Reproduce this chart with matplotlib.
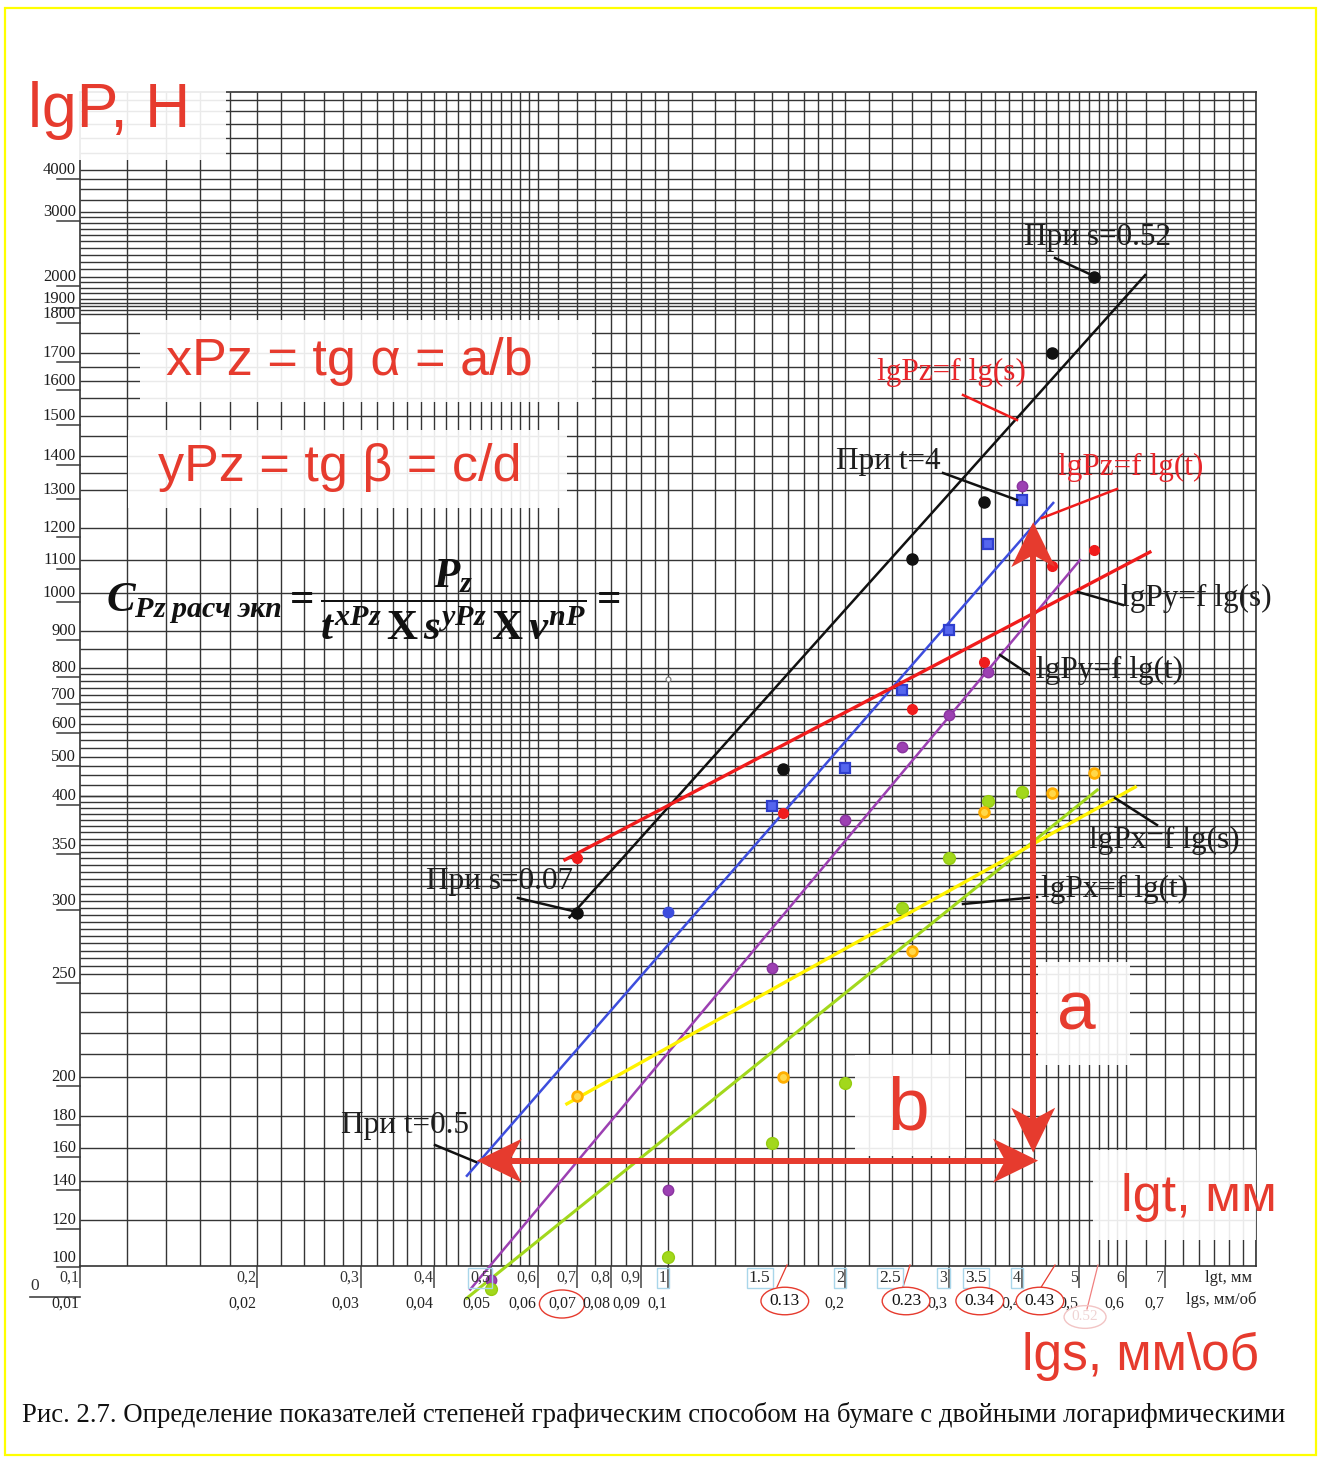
import numpy as np
import matplotlib
matplotlib.use("Agg")
import matplotlib.pyplot as plt
from matplotlib import transforms as mtrans
from matplotlib import font_manager
from matplotlib.lines import Line2D
from matplotlib.patches import Rectangle, Polygon
from matplotlib.ticker import NullLocator

# ---------------------------------------------------------------- data
# depth of cut t, mm, and the three force components measured at it, N
T_VALUES = [0.5, 1.0, 1.5, 2.0, 2.5, 3.0, 3.5, 4.0]
PZ_T = [152, 292, 389, 470, 718, 903, 1149, 1273]
PY_T = [90, 135, 254, 375, 528, 629, 784, 1311]
PX_T = [86, 100.5, 163, 197, 295, 338, 395, 409]

# feed s, mm/rev, and the force components measured at it, N
S_VALUES = [0.07, 0.157, 0.26, 0.345, 0.45, 0.53]
PZ_S = [291, 467, 1103, 1268, 1700, 2000]
PY_S = [338, 382, 650, 815, 1081, 1130]
PX_S = [190, 200, 265, 383, 407, 456]

# straight lines drawn through each group of points (end points)
PZ_T_LINE_T = [0.455, 4.52]
PZ_T_LINE_P = [143, 1265]
PY_T_LINE_T = [0.461, 5.02]
PY_T_LINE_P = [86, 1100]
PX_T_LINE_T = [0.455, 5.37]
PX_T_LINE_P = [82.5, 414]
PZ_S_LINE_S = [0.068, 0.648]
PZ_S_LINE_P = [288, 2025]
PY_S_LINE_S = [0.0668, 0.660]
PY_S_LINE_P = [336, 1124]
PX_S_LINE_S = [0.0673, 0.623]
PX_S_LINE_P = [186, 421]

# stray pencil dot on the sheet
DOT_T = [1.0]
DOT_P = [757]

# construction legs of the slope triangle: b (horizontal) and a (vertical)
LEG_B_T = [0.473, 4.26]
LEG_B_P = 152
LEG_A_T = 4.18
LEG_A_P = [157, 1215]

# printed scales of the log paper
P_TICKS = [100, 120, 140, 160, 180, 200, 250, 300, 350, 400, 500, 600, 700,
           800, 900, 1000, 1100, 1200, 1300, 1400, 1500, 1600, 1700, 1800,
           1900, 2000, 3000, 4000]
P_TICK_LABELS = [str(v) for v in P_TICKS]
T_TICKS = [0.1, 0.2, 0.3, 0.4, 0.5, 0.6, 0.7, 0.8, 0.9, 1, 2, 3, 4, 5, 6, 7]
T_TICK_LABELS = ["0,1", "0,2", "0,3", "0,4", "0,5", "0,6", "0,7", "0,8",
                 "0,9", "1", "2", "3", "4", "5", "6", "7"]
T_EXTRA = [1.5, 2.5, 3.5]
T_EXTRA_LABELS = ["1.5", "2.5", "3.5"]
S_TICKS = [0.01, 0.02, 0.03, 0.04, 0.05, 0.06, 0.07, 0.08, 0.09, 0.1,
           0.2, 0.3, 0.4, 0.5, 0.6, 0.7]
S_TICK_LABELS = ["0,01", "0,02", "0,03", "0,04", "0,05", "0,06", "0,07",
                 "0,08", "0,09", "0,1", "0,2", "0,3", "0,4", "0,5", "0,6", "0,7"]
S_MARKED = [0.158, 0.254, 0.339, 0.429]
S_MARKED_LABELS = ["0.13", "0.23", "0.34", "0.43"]

# ---------------------------------------------------------------- paper
# the printed force scale is not a clean log scale: heights (px above the
# bottom rule) at which the printed force values sit
PAPER_P = [80, 100, 120, 140, 160, 180, 200, 250, 300, 350, 400, 500, 600,
           700, 800, 900, 1000, 1100, 1200, 1300, 1400, 1500, 1600, 1700,
           1800, 1900, 2000, 3000, 4000, 7000]
PAPER_H = [-38.5, 8, 46, 85, 118, 150, 189, 292, 365, 421, 470, 509, 542,
           571, 598, 635, 673, 706, 738, 776, 810, 850, 885, 913, 952, 967,
           989, 1054, 1096, 1177]
LOG_P = np.log10(PAPER_P)


def force_to_paper(v):
    v = np.asarray(v, dtype=float)
    return np.interp(np.log10(np.clip(v, 1e-9, None)), LOG_P, PAPER_H)


def paper_to_force(h):
    return 10 ** np.interp(np.asarray(h, dtype=float), PAPER_H, LOG_P)


# rulings of the sheet
X_RULE = np.concatenate([np.arange(0.12, 0.199, 0.02), np.arange(0.2, 0.599, 0.02),
                         np.arange(0.6, 0.999, 0.05), np.arange(1.0, 1.999, 0.1),
                         np.arange(2.0, 5.999, 0.2), np.arange(6.0, 10.01, 0.5)])
Y_RULE = np.concatenate([[120, 140, 160, 180], np.arange(200, 249, 10),
                         np.arange(250, 299, 5), np.linspace(300, 350, 9),
                         np.linspace(350, 400, 9)[1:], np.arange(400, 799, 25),
                         [800, 850, 900, 1000, 1100, 1200, 1300],
                         np.arange(1350, 1799, 50), np.arange(1800, 1999, 25),
                         np.arange(2000, 2999, 100), np.arange(3000, 3999, 250),
                         np.arange(4000, 6999, 500)])

# ---------------------------------------------------------------- style
available = {f.name for f in font_manager.fontManager.ttflist}
SERIF = "Liberation Serif"
SANS = "Liberation Sans"
NARROW = "Liberation Sans Narrow" if "Liberation Sans Narrow" in available else SERIF

plt.rcParams["font.family"] = [SERIF, "DejaVu Sans"]
plt.rcParams["mathtext.fontset"] = "custom"
plt.rcParams["mathtext.rm"] = "Liberation Serif:bold"
plt.rcParams["mathtext.it"] = "Liberation Serif:italic:bold"
plt.rcParams["mathtext.bf"] = "Liberation Serif:bold"

GRID_C = "#353535"
BLACK = "#111111"
BLUE = "#3d4ddd"
RED = "#f01c1c"
PURPLE = "#9c40b2"
YELLOW = "#fff200"
GREEN = "#a2d81c"
ORANGE = "#ffae00"
NOTE_RED = "#e63b2e"
TEXT_C = "#1e1e1e"

W, H, DPI = 1319, 1461, 100
L, R, T, B = 80, 1256, 92, 1266

fig = plt.figure(figsize=(W / DPI, H / DPI), dpi=DPI)
fig.patch.set_facecolor("white")

ax = fig.add_axes([L / W, (H - B) / H, (R - L) / W, (B - T) / H])
ax.set_xscale("log")
ax.set_yscale("function", functions=(force_to_paper, paper_to_force))
ax.set_xlim(0.1, 10)
ax.set_ylim(paper_to_force(0), paper_to_force(B - T))
ax.set_facecolor("white")

# second abscissa: feed s shares the same rulings, one decade lower
ax_s = ax.twiny()
ax_s.set_xscale("log")
ax_s.set_xlim(0.01, 1)
ax_s.set_axis_off()

ax.set_xticks(T_TICKS)
ax.set_xticklabels([])
ax.xaxis.set_minor_locator(NullLocator())
ax.set_yticks([])
ax.yaxis.set_minor_locator(NullLocator())
ax.tick_params(axis="x", which="major", direction="out", length=15.5,
               width=1.1, color="#444444", labelbottom=False, top=False)
for sp in ax.spines.values():
    sp.set_color("#333333")
    sp.set_linewidth(1.2)

ax.vlines(X_RULE, 0, 1, transform=ax.get_xaxis_transform(), colors=GRID_C,
          linewidth=1.0, zorder=0.5)
ax.hlines(Y_RULE, 0, 1, transform=ax.get_yaxis_transform(), colors=GRID_C,
          linewidth=1.0, zorder=0.5)

# ---------------------------------------------------------------- series
ax.plot(PZ_T_LINE_T, PZ_T_LINE_P, color=BLUE, lw=1.8, zorder=3, clip_on=False)
ax.plot(PY_T_LINE_T, PY_T_LINE_P, color=PURPLE, lw=1.8, zorder=3, clip_on=False)
ax.plot(PX_T_LINE_T, PX_T_LINE_P, color=GREEN, lw=2.2, zorder=3, clip_on=False)
ax_s.plot(PZ_S_LINE_S, PZ_S_LINE_P, color=BLACK, lw=1.8, zorder=3, clip_on=False)
ax_s.plot(PY_S_LINE_S, PY_S_LINE_P, color=RED, lw=2.4, zorder=3, clip_on=False)
ax_s.plot(PX_S_LINE_S, PX_S_LINE_P, color=YELLOW, lw=2.4, zorder=3, clip_on=False)

ax.plot(T_VALUES[:2], PZ_T[:2], ls="none", marker="o", ms=7.5, mfc=BLUE,
        mec=BLUE, zorder=4, clip_on=False)
ax.plot(T_VALUES[2:], PZ_T[2:], ls="none", marker="s", ms=7.5, mfc="#5566ee",
        mec="#2f3fd0", mew=1.6, zorder=4, clip_on=False)
ax.plot(T_VALUES, PY_T, ls="none", marker="o", ms=7.5, mfc=PURPLE,
        mec="#8a34a0", zorder=4, clip_on=False)
ax.plot(T_VALUES, PX_T, ls="none", marker="o", ms=8.5, mfc=GREEN,
        mec="#95cc10", zorder=4, clip_on=False)
ax_s.plot(S_VALUES, PZ_S, ls="none", marker="o", ms=8, mfc=BLACK,
          mec=BLACK, zorder=4, clip_on=False)
ax_s.plot(S_VALUES, PY_S, ls="none", marker="o", ms=7, mfc=RED,
          mec=RED, zorder=4, clip_on=False)
ax_s.plot(S_VALUES, PX_S, ls="none", marker="o", ms=7, mfc="#ffd84a",
          mec=ORANGE, mew=2, zorder=4, clip_on=False)
ax.plot(DOT_T, DOT_P, ls="none", marker="o", ms=3.5, mfc="white",
        mec="#777777", mew=0.8, zorder=4)

# ---------------------------------------------------------------- overlay
ov = fig.add_axes([0, 0, 1, 1])
ov.set_xlim(0, W)
ov.set_ylim(H, 0)
ov.set_axis_off()
ov.set_zorder(5)
ov.patch.set_alpha(0)

blend_y = mtrans.blended_transform_factory(ov.transData, ax.transData)
blend_t = mtrans.blended_transform_factory(ax.transData, ov.transData)
blend_s = mtrans.blended_transform_factory(ax_s.transData, ov.transData)

# printed force scale
for v, lab in zip(P_TICKS, P_TICK_LABELS):
    ov.add_line(Line2D([57, 80], [v, v], color="#3a3a3a", lw=1.1,
                       transform=blend_y + mtrans.Affine2D().translate(0, -9)))
    ov.text(76, v, lab, transform=blend_y, ha="right", va="center",
            fontsize=12, color=TEXT_C, family=SERIF)

# printed depth and feed scales
shift = mtrans.Affine2D().translate(-1, 0)
BOXED_T = {"0,5", "1", "2", "3", "4"}
for v, lab in zip(T_TICKS, T_TICK_LABELS):
    box = dict(boxstyle="square,pad=0.15", fc="none", ec="#a9d6ea", lw=1.0) \
        if lab in BOXED_T else None
    ov.text(v, 1278, lab, transform=blend_t + shift, ha="right", va="center",
            fontsize=11.5, color="#333333", family=NARROW, bbox=box)
for v, lab in zip(T_EXTRA, T_EXTRA_LABELS):
    ov.text(v, 1278, lab, transform=blend_t + shift, ha="right", va="center",
            fontsize=12.5, color="#222222", family=SERIF,
            bbox=dict(boxstyle="square,pad=0.12", fc="none", ec="#a9d6ea", lw=1.0))
for v, lab in zip(S_TICKS, S_TICK_LABELS):
    box = dict(boxstyle="ellipse,pad=0.12", fc="none", ec=NOTE_RED, lw=1.0) \
        if lab == "0,07" else None
    ov.text(v, 1304, lab, transform=blend_s + shift, ha="right", va="center",
            fontsize=11.5, color="#222222", family=SERIF, bbox=box)
for v, lab in zip(S_MARKED, S_MARKED_LABELS):
    ov.text(v, 1301, lab, transform=blend_s, ha="center", va="center",
            fontsize=12.5, color="#111111", family=SERIF,
            bbox=dict(boxstyle="ellipse,pad=0.1", fc="white", ec=NOTE_RED, lw=1.0))
ov.text(0.512, 1317, "0.52", transform=blend_s, ha="center", va="center",
        fontsize=11, color="#efd3d3", family=SERIF,
        bbox=dict(boxstyle="ellipse,pad=0.1", fc="none", ec="#f2c4c4", lw=1.0))
for x0, y0, x1, y1, c in [(777, 1287, 787, 1265, NOTE_RED),
                          (903, 1287, 910, 1265, NOTE_RED),
                          (1040, 1289, 1055, 1265, NOTE_RED),
                          (1087, 1309, 1098, 1265, "#f08080")]:
    ov.plot([x0, x1], [y0, y1], color=c, lw=0.9)

ov.text(1252, 1278, "lgt, мм", ha="right", va="center", fontsize=12,
        color="#222222", family=SERIF)
ov.text(1257, 1300, "lgs, мм/об", ha="right", va="center", fontsize=12,
        color="#222222", family=SERIF)
ov.text(35, 1286, "0", ha="center", va="center", fontsize=12.5,
        color="#333333", family=SERIF)
ov.plot([30, 80], [1297, 1297], color="#444444", lw=1.2)

# translucent white patches pasted over the sheet
for x0, y0, x1, y1 in [(18, 86, 226, 160), (140, 320, 592, 402),
                       (128, 430, 567, 508), (1038, 962, 1130, 1065),
                       (855, 1055, 965, 1156), (1093, 1150, 1256, 1240)]:
    ov.add_patch(Rectangle((x0, y0), x1 - x0, y1 - y0, fc="white",
                           ec="none", alpha=0.9, zorder=1))

# large red captions
ov.text(109, 110, "lgP, H", ha="center", va="center", fontsize=45,
        color=NOTE_RED, family=SANS, zorder=3)
ov.text(349, 362, "xPz = tg α = a/b", ha="center", va="center",
        fontsize=37.5, color=NOTE_RED, family=SANS, zorder=3)
ov.text(340, 467, "yPz = tg β = c/d", ha="center", va="center",
        fontsize=37.5, color=NOTE_RED, family=SANS, zorder=3)
ov.text(1076, 1012, "a", ha="center", va="center", fontsize=50,
        color=NOTE_RED, family=SANS, zorder=3)
ov.text(908, 1110, "b", ha="center", va="center", fontsize=54,
        color=NOTE_RED, family=SANS, zorder=3)
ov.text(1199, 1197, "lgt, мм", ha="center", va="center", fontsize=37.5,
        color=NOTE_RED, family=SANS, zorder=3)
ov.text(1141, 1356, "lgs, мм\\об", ha="center", va="center", fontsize=37,
        color=NOTE_RED, family=SANS, zorder=3)

# cutting-force coefficient formula
ov.text(106, 600,
        r"$C_{Pz\;расч\;экп}=\dfrac{P_z}{t^{xPz}\,\mathrm{X}\,s^{yPz}\,\mathrm{X}\,v^{nP}}=$",
        ha="left", va="center", fontsize=31, color="#111111", zorder=3)

# line labels with leaders
NOTES = [
    ("При s=0.52", 1098, 237, TEXT_C, (1055, 258, 1096, 277)),
    ("lgPz=f lg(s)", 951, 372, "#e8262b", (963, 395, 1017, 420)),
    ("При t=4", 888, 461, TEXT_C, (943, 473, 1017, 500)),
    ("lgPz=f lg(t)", 1131, 467, "#e8262b", (1042, 518, 1117, 489)),
    ("lgPy=f lg(s)", 1196, 598, TEXT_C, (1078, 592, 1123, 605)),
    ("lgPy=f lg(t)", 1110, 670, TEXT_C, (1000, 655, 1033, 677)),
    ("lgPx=f lg(s)", 1164, 840, TEXT_C, (1115, 798, 1157, 825)),
    ("lgPx=f lg(t)", 1115, 889, TEXT_C, (963, 904, 1037, 897)),
    ("При s=0.07", 500, 882, TEXT_C, (518, 898, 577, 912)),
    ("При t=0.5", 405, 1126, TEXT_C, (435, 1145, 476, 1162)),
]
for txt, x, y, c, (x0, y0, x1, y1) in NOTES:
    lc = RED if c != TEXT_C else "#111111"
    ov.plot([x0, x1], [y0, y1], color=lc, lw=1.8, zorder=4)
    ov.text(x, y, txt, ha="center", va="center", fontsize=22.5, color=c,
            family=SERIF, zorder=4)

# caption and frame
ov.text(22, 1415, "Рис. 2.7. Определение показателей степеней графическим "
        "способом на бумаге с двойными логарифмическими",
        ha="left", va="center", fontsize=19.3, color="#111111", family=SERIF)
ov.add_patch(Rectangle((5, 8), 1311, 1447, fill=False, ec="#ffff00", lw=1.6))


# ---------------------------------------------------------------- slope legs
def stealth_head(tip, d, length=45.0, half=22.0, notch=12.0):
    n = np.array([-d[1], d[0]])
    pts = [tip, tip - length * d + half * n, tip - (length - notch) * d,
           tip - length * d - half * n]
    return Polygon(pts, closed=True, transform=mtrans.IdentityTransform(),
                   fc=NOTE_RED, ec="none", zorder=20)


def double_arrow(p0, p1):
    p0, p1 = np.asarray(p0, float), np.asarray(p1, float)
    d = (p1 - p0) / np.hypot(*(p1 - p0))
    a, b = p0 + 30 * d, p1 - 30 * d
    fig.add_artist(Line2D([a[0], b[0]], [a[1], b[1]], color=NOTE_RED, lw=4.3,
                          transform=mtrans.IdentityTransform(), zorder=19,
                          solid_capstyle="butt"))
    fig.add_artist(stealth_head(p0, -d))
    fig.add_artist(stealth_head(p1, d))


double_arrow(ax.transData.transform((LEG_B_T[0], LEG_B_P)),
             ax.transData.transform((LEG_B_T[1], LEG_B_P)))
double_arrow(ax.transData.transform((LEG_A_T, LEG_A_P[0])),
             ax.transData.transform((LEG_A_T, LEG_A_P[1])))

fig.savefig("out.png", dpi=DPI, facecolor="white")
